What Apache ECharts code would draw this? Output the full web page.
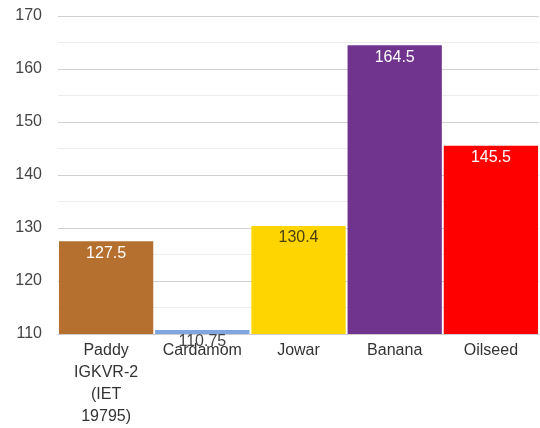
<!DOCTYPE html>
<html style="height: 100%">
<head>
    <meta charset="utf-8">
    <title>crops</title>
</head>
<body style="height: 100%; margin: 0; background: #fff">
    <div id="container" style="width: 540px; height: 428px"></div>
    <script type="text/javascript" src="https://cdn.jsdelivr.net/npm/echarts@6/dist/echarts.min.js"></script>
    <script type="text/javascript">
    var crops = ['Paddy\nIGKVR-2\n(IET\n19795)', 'Cardamom', 'Jowar', 'Banana', 'Oilseed'];
    var values = [127.5, 110.75, 130.4, 164.5, 145.5];
    var barColors = ['#b5702f', '#7ea6e0', '#ffd500', '#70348f', '#ff0000'];
    var labelColors = ['#fff', '#444', '#4a3f10', '#fff', '#fff'];

    var myChart = echarts.init(document.getElementById('container'));

    var data = values.map(function (v, i) {
        return {
            value: v,
            itemStyle: { color: barColors[i] },
            label: { color: labelColors[i] }
        };
    });

    var option = {
        animation: false,
        grid: { left: 58, right: 1, top: 16, bottom: 92 },
        xAxis: {
            type: 'category',
            data: crops,
            axisLine: { show: true, lineStyle: { color: '#ccc' } },
            axisTick: { show: false },
            axisLabel: {
                color: '#333',
                fontSize: 16,
                fontFamily: 'Liberation Sans, Arial',
                lineHeight: 22,
                margin: 6,
                interval: 0
            }
        },
        yAxis: {
            type: 'value',
            min: 110,
            max: 170,
            interval: 10,
            axisLine: { show: false },
            axisTick: { show: false },
            axisLabel: {
                color: '#444',
                fontSize: 16,
                fontFamily: 'Liberation Sans, Arial',
                margin: 16
            },
            splitLine: { lineStyle: { color: '#d0d0d0' } },
            minorTick: { show: false, splitNumber: 2 },
            minorSplitLine: { show: true, lineStyle: { color: '#ececec' } }
        },
        series: [{
            type: 'bar',
            data: data,
            barCategoryGap: '2%',
            label: {
                show: true,
                position: 'insideTop',
                distance: 4,
                fontSize: 16,
                fontFamily: 'Liberation Sans, Arial'
            }
        }]
    };
    myChart.setOption(option);
    </script>
</body>
</html>
